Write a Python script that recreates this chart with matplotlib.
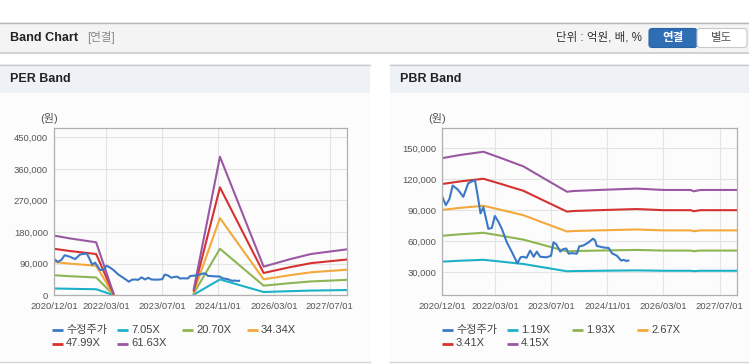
import numpy as np
import pandas as pd
import matplotlib
matplotlib.use("Agg")
import matplotlib.pyplot as plt
from matplotlib.patches import Rectangle, FancyBboxPatch

plt.rcParams['font.family'] = ['Liberation Sans', 'Noto Sans CJK KR']

# ---- data ----
price_dates = ['2020-12-01', '2021-01-01', '2021-02-01', '2021-03-01', '2021-04-15', '2021-06-01',
               '2021-07-13', '2021-08-13', '2021-09-10', '2021-10-01', '2021-10-28', '2021-11-22',
               '2022-01-04', '2022-02-04', '2022-03-01', '2022-04-01', '2022-05-01', '2022-06-13',
               '2022-07-25', '2022-09-13', '2022-10-10', '2022-11-04', '2022-12-01', '2023-01-01',
               '2023-02-01', '2023-02-28', '2023-03-29', '2023-05-25', '2023-07-01', '2023-07-22',
               '2023-08-16', '2023-09-19', '2023-10-16', '2023-11-10', '2023-12-01', '2023-12-28',
               '2024-02-10', '2024-03-01', '2024-04-07', '2024-05-22', '2024-06-28', '2024-07-16',
               '2024-08-01', '2024-09-28', '2024-11-12', '2024-12-10', '2025-01-22', '2025-02-28',
               '2025-03-20', '2025-04-15', '2025-05-01']
price = [103000, 95000, 101000, 114000, 110000, 103000,
         116000, 118000, 119000, 106000, 87000, 93000,
         72000, 73000, 84500, 79000, 72000, 59000,
         50000, 38700, 44500, 45000, 44000, 51000,
         45000, 50000, 45000, 44500, 46000, 59000,
         57000, 50000, 52500, 53000, 48000, 48500,
         48000, 55000, 56000, 59000, 62500, 61000,
         55500, 54000, 53500, 48400, 46000, 41300,
         42000, 41000, 41300]

# PER band: EPS per date (gap where EPS is missing)
eps_dates = ['2020-12-01', '2021-04-15', '2021-12-01', '2022-05-01', '2022-06-01', '2024-04-01',
             '2024-11-15', '2025-12-01', '2026-07-15', '2027-01-20', '2027-12-01']
eps = [2758, 2629, 2450, 90, np.nan, 290, 6404, 1324, 1663, 1910, 2126]
per_multiples = [7.05, 20.70, 34.34, 47.99, 61.63]

# PBR band: BPS per date
bps_dates = ['2020-12-01', '2021-05-01', '2021-11-22', '2022-04-01', '2022-11-04', '2023-05-25',
             '2023-11-16', '2024-01-13', '2024-08-15', '2025-07-13', '2026-03-01', '2026-10-22',
             '2026-11-19', '2027-01-15', '2027-12-01']
bps = [33860, 34580, 35350, 34100, 31930, 28750, 26020, 26190, 26430, 26750, 26430, 26430,
       26120, 26430, 26430]
pbr_multiples = [1.19, 1.93, 2.67, 3.41, 4.15]

x_ticks = ['2020-12-01', '2022-03-01', '2023-07-01', '2024-11-01', '2026-03-01', '2027-07-01']
x_tick_labels = ['2020/12/01', '2022/03/01', '2023/07/01', '2024/11/01', '2026/03/01', '2027/07/01']
per_yticks = [0, 90000, 180000, 270000, 360000, 450000]
pbr_yticks = [30000, 60000, 90000, 120000, 150000]

price_color = '#3b78c6'
band_colors = ['#1bb2c8', '#8db653', '#f4a83b', '#d63131', '#9a58a2']

# ---- figure in pixel space ----
W, H = 749, 364
fig = plt.figure(figsize=(W / 100, H / 100), dpi=100)
fig.patch.set_facecolor('white')
bg = fig.add_axes([0, 0, 1, 1])
bg.set_xlim(0, W)
bg.set_ylim(H, 0)
bg.axis('off')


def box(x, y, w, h, fc, ec='none', lw=0):
    bg.add_patch(Rectangle((x, y), w, h, facecolor=fc, edgecolor=ec, linewidth=lw))


# header bar
box(0, 22, W, 31, '#f4f4f4')
bg.plot([0, W], [22.5, 22.5], color='#b8b8b8', lw=1)
bg.plot([0, W], [53, 53], color='#d2d2d2', lw=1.5)
bg.text(10, 38, 'Band Chart', fontsize=9.1, fontweight='bold', va='center', color='#222222')
bg.text(87, 38, '[연결]', fontsize=8.3, va='center', color='#8a8a8a')
bg.text(642, 38, '단위 : 억원, 배, %', fontsize=8.3, va='center', ha='right', color='#333333')
bg.add_patch(FancyBboxPatch((649, 28.5), 48, 19, boxstyle='round,pad=0,rounding_size=3',
                            facecolor='#2f6eb5', edgecolor='#2a64a5', linewidth=0.8))
bg.add_patch(FancyBboxPatch((697, 28.5), 50, 19, boxstyle='round,pad=0,rounding_size=3',
                            facecolor='white', edgecolor='#c8c8c8', linewidth=0.8))
bg.text(673, 38, '연결', fontsize=8.3, fontweight='bold', va='center', ha='center', color='white')
bg.text(722, 38, '별도', fontsize=8.3, va='center', ha='center', color='#555555')

# panels
for px, pw, title in [(0, 370, 'PER Band'), (390, 359, 'PBR Band')]:
    box(px, 64, pw, 28.5, '#eef2f7')
    box(px, 92.5, pw, 268, '#fcfcfc')
    bg.plot([px, px + pw], [64.5, 64.5], color='#cccccc', lw=1)
    bg.plot([px, px + pw], [361.5, 361.5], color='#d4d4d4', lw=1)
    bg.text(px + 10, 79, title, fontsize=9, fontweight='bold', va='center', color='#222222')


def setup_axes(x0, x1, ylo, yhi, yticks):
    ax = fig.add_axes([x0 / W, 1 - 295.3 / H, (x1 - x0) / W, (295.3 - 128.3) / H])
    ax.set_facecolor('#fcfcfc')
    ax.set_xlim(pd.Timestamp('2020-12-01'), pd.Timestamp('2027-12-01'))
    ax.set_ylim(ylo, yhi)
    ax.set_xticks(pd.to_datetime(x_ticks))
    ax.set_xticklabels(x_tick_labels)
    ax.set_yticks(yticks)
    ax.set_yticklabels(['{:,}'.format(v) for v in yticks])
    ax.grid(True, color='#e4e4e4', lw=0.8)
    ax.set_axisbelow(True)
    for s in ax.spines.values():
        s.set_color('#b0b0b0')
        s.set_linewidth(0.9)
    ax.tick_params(length=0, labelsize=6.8, labelcolor='#555555')
    ax.tick_params(axis='x', pad=5)
    ax.tick_params(axis='y', pad=4.5)
    return ax


lw = 1.5
# PER
ax1 = setup_axes(54.3, 347.3, 0, 475600, per_yticks)
ed = pd.to_datetime(eps_dates)
for m, c in zip(per_multiples, band_colors):
    ax1.plot(ed, np.array(eps) * m, color=c, lw=lw)
ax1.plot(pd.to_datetime(price_dates), price, color=price_color, lw=lw)

# PBR
ax2 = setup_axes(442.3, 737.3, 7700, 169400, pbr_yticks)
bd = pd.to_datetime(bps_dates)
for m, c in zip(pbr_multiples, band_colors):
    ax2.plot(bd, np.array(bps) * m, color=c, lw=lw)
ax2.plot(pd.to_datetime(price_dates), price, color=price_color, lw=lw)

bg.text(49, 118.3, '(원)', fontsize=8, va='center', ha='center', color='#555555')
bg.text(437.5, 118.3, '(원)', fontsize=8, va='center', ha='center', color='#555555')

# legends
for lx, mults in [(52, per_multiples), (442, pbr_multiples)]:
    labels = ['수정주가'] + ['{:.2f}X'.format(m) for m in mults]
    colors = [price_color] + band_colors
    for i, (lab, c) in enumerate(zip(labels, colors)):
        x = lx + (i % 4) * 65
        y = 330 if i < 4 else 343.5
        bg.plot([x, x + 11], [y, y], color=c, lw=2, solid_capstyle='butt')
        bg.text(x + 14, y, lab, fontsize=8, va='center', ha='left', color='#444444')

fig.savefig('out.png', dpi=100)
